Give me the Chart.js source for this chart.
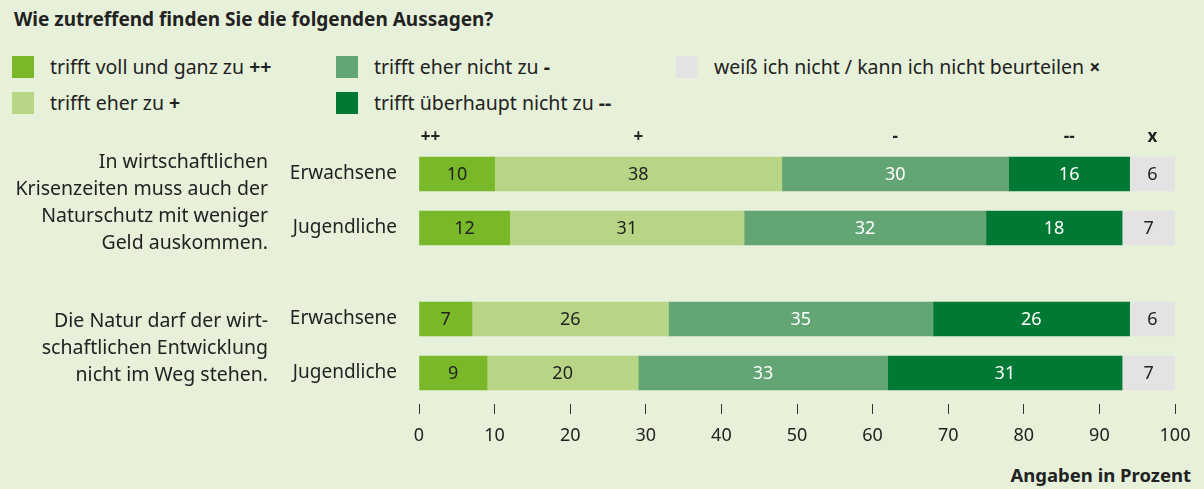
<!DOCTYPE html>
<html lang="de">
<head>
<meta charset="utf-8">
<script src="https://cdn.jsdelivr.net/npm/chart.js@4/dist/chart.umd.min.js"></script>
<style>
  html, body { margin: 0; padding: 0; background: #e7f1da; }
  body { width: 1204px; height: 489px; position: relative; overflow: hidden;
         font-family: "Noto Sans", sans-serif; color: #222; }
  #wrap { position: absolute; left: 0; top: 0; width: 1204px; height: 489px; }
  .titel { position: absolute; left: 14px; top: 6px; font-weight: bold; font-size: 19px; }
  .legende { position: absolute; left: 0; top: 0; }
  .legende div { position: absolute; font-size: 19.5px; white-space: nowrap; line-height: 22px; }
  .legende span.box { position: absolute; left: -38px; top: 0; width: 22px; height: 22px; }
  .fuss { position: absolute; right: 13px; top: 462px; font-weight: bold; font-size: 18.5px; }
</style>
</head>
<body>
<div class="titel">Wie zutreffend finden Sie die folgenden Aussagen?</div>
<div class="legende" id="legende"></div>
<div class="fuss">Angaben in Prozent</div>
<div id="wrap"><canvas id="grafik" width="1204" height="489"></canvas></div>
<script>
// Antwortkategorien
const kategorien = ['trifft voll und ganz zu', 'trifft eher zu', 'trifft eher nicht zu', 'trifft überhaupt nicht zu', 'weiß ich nicht / kann ich nicht beurteilen'];
const kuerzel = ['++', '+', '-', '--', 'x'];
const farben = ['#78b829', '#b8d586', '#63a574', '#007934', '#e3e3e3'];
const textFarben = ['#222', '#222', '#fff', '#fff', '#222'];

// Zeilen: Gruppe / Aussage
const gruppen = ['Erwachsene', 'Jugendliche', 'Erwachsene', 'Jugendliche'];
const aussagen = [
    ['In wirtschaftlichen', 'Krisenzeiten muss auch der', 'Naturschutz mit weniger', 'Geld auskommen.'],
    ['Die Natur darf der wirt-', 'schaftlichen Entwicklung', 'nicht im Weg stehen.']
];

// Werte je Kategorie (Zeilen in obiger Reihenfolge)
const vollUndGanz = [10, 12, 7, 9];
const eherZu = [38, 31, 26, 20];
const eherNicht = [30, 32, 35, 33];
const ueberhauptNicht = [16, 18, 26, 31];
const weissNicht = [6, 7, 6, 7];

const xTicks = [0, 10, 20, 30, 40, 50, 60, 70, 80, 90, 100];

// Lage der Zeilen auf der y-Achse (zweite Aussage mit Abstand)
const zeilenPos = [0, 1, 2.685, 3.685];

const werte = [vollUndGanz, eherZu, eherNicht, ueberhauptNicht, weissNicht];

const datasets = werte.map((reihe, k) => ({
    label: kategorien[k],
    data: reihe.map((v, i) => ({ x: v, y: zeilenPos[i] })),
    backgroundColor: farben[k],
    borderWidth: 0,
    barThickness: 34,
    stack: 'a'
}));

// Legende
const legPos = [[50, 56], [50, 92], [374, 56], [374, 92], [714, 56]];
const leg = document.getElementById('legende');
kategorien.forEach((k, i) => {
    const d = document.createElement('div');
    d.style.left = legPos[i][0] + 'px';
    d.style.top = legPos[i][1] + 'px';
    d.innerHTML = '<span class="box" style="background:' + farben[i] + '"></span>' + k + ' <b>' + (kuerzel[i] === 'x' ? '×' : kuerzel[i]) + '</b>';
    leg.appendChild(d);
});

// Werte in die Balken schreiben, Kürzel darüber, Aussagen links
const beschriftung = {
    id: 'beschriftung',
    afterDatasetsDraw(chart) {
        const ctx = chart.ctx;
        const ys = chart.scales.y;
        ctx.save();
        ctx.textAlign = 'center';
        ctx.textBaseline = 'middle';
        chart.data.datasets.forEach((ds, k) => {
            chart.getDatasetMeta(k).data.forEach((bar, i) => {
                const mitte = (bar.x + bar.base) / 2;
                ctx.font = '18px "Noto Sans"';
                ctx.fillStyle = textFarben[k];
                ctx.fillText(String(ds.data[i].x), mitte, bar.y + 1);
                if (i === 0) {
                    ctx.fillStyle = '#222';
                    ctx.font = 'bold 17px "Noto Sans"';
                    const px = k === 0 ? bar.base + 11 : mitte;
                    ctx.fillText(kuerzel[k], px, 137);
                }
            });
        });
        ctx.textAlign = 'right';
        ctx.fillStyle = '#222';
        ctx.font = '19.5px "Noto Sans"';
        aussagen.forEach((zeilen, g) => {
            const mitte = (ys.getPixelForValue(zeilenPos[g * 2]) + ys.getPixelForValue(zeilenPos[g * 2 + 1])) / 2;
            const start = mitte - (zeilen.length - 1) * 27 / 2;
            zeilen.forEach((z, j) => ctx.fillText(z, 268, start + j * 27 + 2));
        });
        ctx.restore();
    }
};

new Chart(document.getElementById('grafik'), {
    type: 'bar',
    data: { datasets: datasets },
    plugins: [beschriftung],
    options: {
        indexAxis: 'y',
        responsive: false,
        animation: false,
        layout: { padding: { top: 147, right: 29, left: 0, bottom: 0 } },
        plugins: { legend: { display: false }, tooltip: { enabled: false } },
        scales: {
            x: {
                type: 'linear',
                stacked: true,
                min: 0,
                max: 100,
                afterBuildTicks: (s) => { s.ticks = xTicks.map(v => ({ value: v })); },
                afterFit: (s) => { s.height = 85; },
                border: { display: false },
                grid: { drawOnChartArea: false, tickLength: 10, color: '#333', tickWidth: 1 },
                ticks: { color: '#222', padding: 11, font: { family: 'Noto Sans', size: 18 } }
            },
            y: {
                type: 'linear',
                stacked: true,
                reverse: true,
                offset: false,
                min: -0.5,
                max: 4.259,
                afterBuildTicks: (s) => { s.ticks = zeilenPos.map(v => ({ value: v })); },
                afterFit: (s) => { s.width = 419; },
                border: { display: false },
                grid: { display: false },
                ticks: {
                    color: '#222',
                    padding: 14,
                    font: { family: 'Noto Sans', size: 19 },
                    callback: (v) => gruppen[zeilenPos.indexOf(v)]
                }
            }
        }
    }
});
</script>
</body>
</html>
